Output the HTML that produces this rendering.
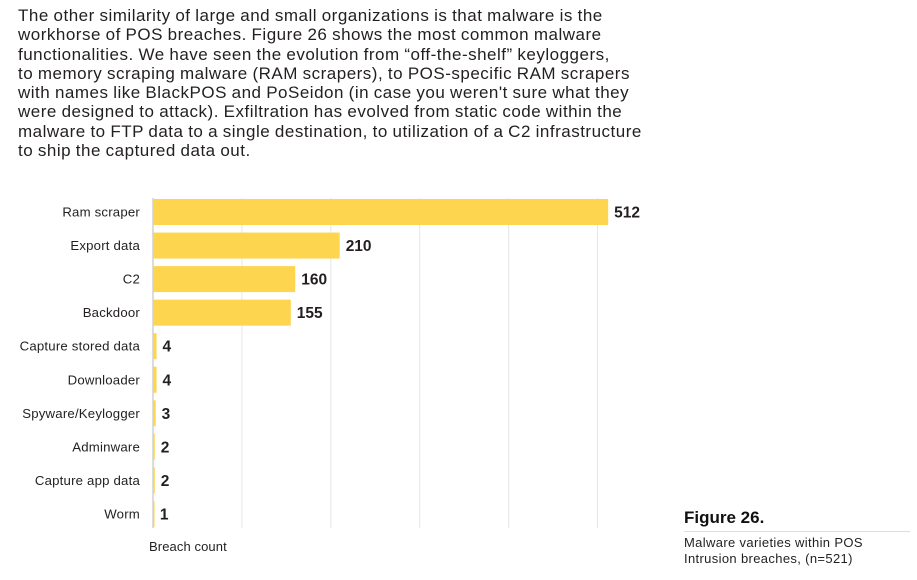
<!DOCTYPE html>
<html><head><meta charset="utf-8"><style>
body{margin:0;width:917px;height:580px;background:#fff;font-family:"Liberation Sans",sans-serif;color:#231f20;position:relative;overflow:hidden}
#intro{position:absolute;left:18px;top:6px;font-size:17px;line-height:19.3px;letter-spacing:0.5px;word-spacing:-0.5px;white-space:nowrap}
svg{position:absolute;left:0;top:0}
</style></head><body>
<div id="intro">
<div>The other similarity of large and small organizations is that malware is the</div>
<div>workhorse of POS breaches. Figure 26 shows the most common malware</div>
<div>functionalities. We have seen the evolution from “off-the-shelf” keyloggers,</div>
<div>to memory scraping malware (RAM scrapers), to POS-specific RAM scrapers</div>
<div>with names like BlackPOS and PoSeidon (in case you weren't sure what they</div>
<div>were designed to attack). Exfiltration has evolved from static code within the</div>
<div>malware to FTP data to a single destination, to utilization of a C2 infrastructure</div>
<div>to ship the captured data out.</div>
</div>
<svg id="chart" width="917" height="580"></svg>
<script>
const categories=["Ram scraper","Export data","C2","Backdoor","Capture stored data","Downloader","Spyware/Keylogger","Adminware","Capture app data","Worm"];
const values=[512,210,160,155,4,4,3,2,2,1];
const gridTicks=[100,200,300,400,500];
const NS="http://www.w3.org/2000/svg";
const svg=document.getElementById('chart');
const x0=153,pxPerUnit=0.889,yTop=212,rowStep=33.55,barH=26;
const xs=v=>x0+v*pxPerUnit;
const ys=i=>yTop+i*rowStep;
function mk(t,a){const e=document.createElementNS(NS,t);for(const k in a)e.setAttribute(k,a[k]);svg.appendChild(e);return e;}
gridTicks.forEach(t=>{
 const l=mk('line',{x1:xs(t),x2:xs(t),y1:198,y2:528,stroke:'#e6e6e6','stroke-width':1});
 
 
});
const ax=mk('line',{x1:x0,x2:x0,y1:198,y2:528,stroke:'#d0d0d0','stroke-width':1.5});


categories.forEach((c,i)=>{
 const cy=ys(i);
 const r=mk('rect',{x:x0,y:cy-barH/2,width:Math.max(values[i]*pxPerUnit,1.5),height:barH,fill:'#fdd54f'});
 
 
 const lb=mk('text',{x:140,y:cy+4.5,'text-anchor':'end','font-size':13.2,'letter-spacing':0.2,fill:'#231f20'});
 lb.textContent=c;
 
 
 const vl=mk('text',{x:xs(values[i])+6,y:cy+5.5,'font-size':15.5,'font-weight':'bold',fill:'#231f20'});
 vl.textContent=values[i];
 
 
});
const xt=mk('text',{x:149,y:551,'font-size':13,'letter-spacing':0.1,fill:'#231f20'});
xt.textContent='Breach count';


const ft=mk('text',{x:684,y:523,'font-size':17,'font-weight':'bold',fill:'#111'});
ft.textContent='Figure 26.';


const fl=mk('line',{x1:684,x2:910,y1:531.5,y2:531.5,stroke:'#ddd','stroke-width':1});


['Malware varieties within POS','Intrusion breaches, (n=521)'].forEach((s,i)=>{
 const t=mk('text',{x:684,y:547+i*16,'font-size':13,'letter-spacing':0.35,fill:'#231f20'});
 t.textContent=s;
 
 
});
</script>
</body></html>
